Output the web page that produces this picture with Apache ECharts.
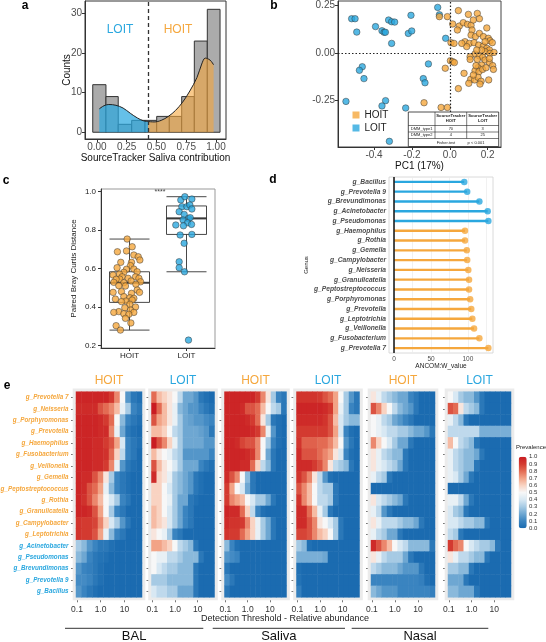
<!DOCTYPE html>
<html><head><meta charset="utf-8">
<script src="https://cdn.jsdelivr.net/npm/echarts@6/dist/echarts.min.js"></script>
<style>html,body{margin:0;padding:0;background:#fff}#c{width:546px;height:642px}</style>
</head><body><div id="c"></div>
<script>
// ================= DATA =================
// Panel a: histogram of SourceTracker saliva contribution
const histBinStart = [-0.035, 0.076, 0.179, 0.292, 0.404, 0.502, 0.608, 0.712, 0.818, 0.927];
const histBinEnd   = [0.076, 0.179, 0.292, 0.404, 0.502, 0.608, 0.712, 0.818, 0.927, 1.034];
const histCounts   = [12, 9, 2, 3, 3, 4, 4, 9, 23, 31];
const densityLOIT = [[0.02,5.9],[0.06,6.7],[0.10,7.0],[0.16,6.8],[0.22,6.1],[0.28,4.8],[0.34,3.6],[0.39,2.9],[0.43,2.7]];
const densityHOIT = [[0.43,2.7],[0.48,2.6],[0.54,3.0],[0.60,4.0],[0.66,5.5],[0.72,7.6],[0.78,10.4],[0.84,13.8],[0.88,17.2],[0.91,18.7],[0.95,18.2],[0.98,17.0]];
const splitThreshold = 0.43;

// Panel b: PCoA
const pcaHOIT = [[-0.055,0.192],[-0.013,0.192],[0.045,0.224],[0.098,0.204],[0.145,0.209],[0.156,0.181],[0.015,0.153],[0.050,0.142],[0.071,0.160],[0.093,0.151],[0.112,0.146],[0.124,0.174],[0.040,0.121],[0.117,0.121],[0.195,0.132],[0.112,0.094],[0.135,0.086],[0.156,0.103],[0.177,0.086],[0.203,0.077],[0.212,0.064],[0.224,0.054],[0.080,0.059],[0.103,0.050],[0.128,0.054],[0.152,0.041],[0.177,0.036],[0.195,0.024],[0.209,0.015],[0.186,0.006],[0.212,-0.003],[0.233,0.002],[0.133,-0.006],[0.156,-0.017],[0.173,-0.024],[0.107,-0.021],[0.006,0.054],[0.022,0.050],[0.003,-0.042],[0.015,-0.047],[0.024,-0.052],[-0.024,-0.082],[0.075,-0.109],[0.107,-0.035],[0.145,-0.035],[0.186,-0.038],[0.209,-0.052],[0.226,-0.068],[0.168,-0.065],[0.149,-0.079],[0.133,-0.095],[0.154,-0.100],[0.173,-0.088],[0.230,-0.088],[0.110,-0.141],[0.131,-0.144],[0.149,-0.130],[0.165,-0.151],[0.205,-0.144],[0.100,-0.162],[0.159,-0.166],[0.045,-0.190],[-0.136,-0.265],[-0.046,-0.290],[-0.013,-0.290],[0.186,0.059],[0.168,0.015],[0.138,-0.068],[0.124,-0.118],[0.191,-0.079],[0.089,0.033],[0.063,0.050],[0.209,-0.030],[0.142,0.015]];
const pcaLOIT = [[-0.518,0.181],[-0.500,0.181],[-0.491,0.110],[-0.392,0.139],[-0.358,0.117],[-0.347,0.109],[-0.340,0.109],[-0.323,0.174],[-0.307,0.165],[-0.291,0.163],[-0.205,0.199],[-0.219,0.103],[-0.201,0.116],[-0.307,0.050],[-0.064,0.241],[-0.055,0.202],[-0.022,0.077],[-0.113,-0.059],[-0.462,-0.074],[-0.477,-0.093],[-0.453,-0.137],[-0.140,-0.137],[-0.131,-0.159],[-0.548,-0.258],[-0.339,-0.254],[-0.358,-0.282],[-0.233,-0.293],[-0.319,-0.470]];
const tableHeader = ['', 'SourceTracker\nHOIT', 'SourceTracker\nLOIT'];
const tableRows = [['DMM_type1', '70', '3'], ['DMM_type2', '4', '25']];
const tableFooter = ['Fisher.test', 'p < 0.001'];

// Panel c: paired Bray Curtis distance
const brayGroups = ['HOIT', 'LOIT'];
const brayHOIT = [[0.959,0.754],[1.047,0.714],[0.788,0.688],[0.947,0.692],[1.076,0.671],[1.153,0.662],[1.182,0.645],[1.035,0.633],[0.847,0.633],[0.782,0.605],[1.018,0.616],[0.947,0.597],[1.076,0.598],[1.135,0.584],[0.900,0.581],[0.824,0.572],[0.712,0.567],[0.871,0.558],[1.106,0.558],[0.976,0.550],[1.165,0.550],[0.829,0.546],[0.765,0.545],[1.029,0.536],[1.194,0.532],[0.724,0.529],[0.900,0.527],[1.112,0.519],[0.812,0.512],[0.929,0.510],[1.135,0.489],[1.035,0.472],[1.176,0.477],[0.859,0.481],[0.712,0.477],[0.900,0.455],[1.006,0.449],[1.076,0.446],[0.753,0.442],[0.941,0.432],[1.047,0.437],[0.859,0.429],[1.006,0.415],[1.106,0.401],[0.918,0.397],[0.812,0.377],[1.018,0.385],[1.076,0.373],[0.900,0.366],[0.988,0.363],[0.724,0.373],[0.929,0.342],[1.024,0.318],[0.765,0.304],[0.841,0.281]];
const brayLOIT = [[1.900,0.957],[1.971,0.974],[2.094,0.962],[1.918,0.922],[2.006,0.922],[2.059,0.931],[1.871,0.896],[1.959,0.882],[2.094,0.910],[2.035,0.861],[2.065,0.865],[1.941,0.853],[2.018,0.839],[1.947,0.823],[1.812,0.827],[2.088,0.830],[1.888,0.775],[2.094,0.778],[1.959,0.732],[1.871,0.636],[1.871,0.605],[1.965,0.584],[2.035,0.229]];
const brayBoxHOIT = [0.281, 0.425, 0.527, 0.584, 0.754];
const brayBoxLOIT = [0.584, 0.778, 0.861, 0.926, 0.974];
const brayMedians = [0.527, 0.861];

// Panel d: ANCOM W values
const ancomGenus = ['g_Bacillus','g_Prevotella 9','g_Brevundimonas','g_Acinetobacter','g_Pseudomonas','g_Haemophilus','g_Rothia','g_Gemella','g_Campylobacter','g_Neisseria','g_Granulicatella','g_Peptostreptococcus','g_Porphyromonas','g_Prevotella','g_Leptotrichia','g_Veillonella','g_Fusobacterium','g_Prevotella 7'];
const ancomW = [95, 99, 115.5, 126.8, 127.7, 96, 96, 98.5, 99, 100.5, 101.5, 101.5, 103, 104.5, 106, 108.3, 115.5, 127.7];
const ancomGroup = ['LOIT','LOIT','LOIT','LOIT','LOIT','HOIT','HOIT','HOIT','HOIT','HOIT','HOIT','HOIT','HOIT','HOIT','HOIT','HOIT','HOIT','HOIT'];

// Panel e: core prevalence heatmaps
const heatGenus = ['g_Prevotella 7','g_Neisseria','g_Porphyromonas','g_Prevotella','g_Haemophilus','g_Fusobacterium','g_Veillonella','g_Gemella','g_Peptostreptococcus','g_Rothia','g_Granulicatella','g_Campylobacter','g_Leptotrichia','g_Acinetobacter','g_Pseudomonas','g_Brevundimonas','g_Prevotella 9','g_Bacillus'];
const heatGenusGroup = ['HOIT','HOIT','HOIT','HOIT','HOIT','HOIT','HOIT','HOIT','HOIT','HOIT','HOIT','HOIT','HOIT','LOIT','LOIT','LOIT','LOIT','LOIT'];
const thresholds = ['0.11','0.2','0.34','0.58','1','1.7','2.9','5','8.5','15','25','43'];
const thresholdTicks = [-1, 0, 1];           // log10 positions
const thresholdTickLabels = ['0.1', '1.0', '10'];
const balHOIT = [
 [.97,.97,.97,.97,.97,.97,.9,.75,.5,.15,.05,.02],
 [.95,.95,.95,.95,.85,.8,.75,.65,.45,.3,.1,.05],
 [.97,.97,.97,.97,.95,.9,.8,.5,.25,.1,.05,.02],
 [.97,.97,.97,.97,.95,.95,.75,.45,.2,.05,.02,0],
 [.97,.97,.97,.95,.95,.9,.85,.7,.4,.1,.05,.02],
 [.97,.97,.97,.95,.95,.93,.8,.6,.35,.1,.05,0],
 [.97,.97,.97,.95,.95,.9,.75,.45,.15,.05,.02,0],
 [.97,.95,.95,.85,.75,.55,.3,.1,.05,.02,0,0],
 [.97,.95,.85,.8,.7,.45,.25,.1,.05,.02,0,0],
 [.97,.93,.85,.75,.65,.5,.4,.3,.1,.05,0,0],
 [.97,.97,.95,.85,.7,.5,.3,.1,.05,0,0,0],
 [.92,.9,.9,.88,.75,.6,.4,.3,.15,.05,0,0],
 [.92,.9,.9,.85,.7,.45,.25,.1,.05,0,0,0],
 [.3,.25,.15,.1,.05,.05,.02,0,0,0,0,0],
 [.25,.2,.1,.05,.03,.02,0,0,0,0,0,0],
 [.15,.1,.08,.05,.02,0,0,0,0,0,0,0],
 [.12,.12,.1,.05,.02,0,0,0,0,0,0,0],
 [.15,.1,.05,.02,0,0,0,0,0,0,0,0]];
const balLOIT = [
 [.8,.65,.6,.55,.5,.35,.2,.2,.15,.05,.02,0],
 [1,.8,.65,.55,.45,.25,.2,.15,.15,.1,.05,.02],
 [.85,.7,.65,.55,.45,.3,.2,.18,.15,.15,.12,.1],
 [.65,.65,.6,.5,.35,.3,.2,.2,.2,.18,.15,.05],
 [1,.85,.75,.6,.45,.3,.2,.2,.2,.2,.15,.15],
 [.65,.55,.5,.45,.35,.3,.15,.15,.15,.15,.15,.1],
 [.85,.65,.55,.5,.4,.3,.2,.2,.2,.1,.05,.02],
 [.95,.6,.55,.45,.3,.25,.2,.15,.05,.02,0,0],
 [.6,.6,.5,.4,.3,.25,.2,.15,.05,.02,0,0],
 [.6,.6,.5,.45,.3,.2,.2,.05,.02,0,0,0],
 [.65,.6,.5,.4,.3,.2,.1,.05,0,0,0,0],
 [.65,.6,.55,.4,.3,.2,.1,.05,0,0,0,0],
 [.55,.5,.45,.3,.1,.05,0,0,0,0,0,0],
 [.7,.7,.65,.6,.5,.35,.3,.25,.05,0,0,0],
 [.5,.45,.45,.35,.35,.3,.25,.25,.25,.05,0,0],
 [.5,.4,.35,.3,.3,.25,.25,.25,.05,0,0,0],
 [.3,.3,.3,.25,.25,.25,.25,.25,.05,0,0,0],
 [.4,.35,.35,.3,.3,.2,.2,.2,.05,0,0,0]];
const salivaHOIT = [
 [.97,.97,.97,.97,.97,.97,.9,.75,.55,.3,.1,.05],
 [.97,.97,.97,.95,.85,.85,.8,.65,.5,.35,.3,.05],
 [.97,.97,.97,.97,.95,.9,.8,.55,.3,.05,.02,0],
 [.97,.97,.97,.97,.97,.95,.9,.75,.45,.15,.02,0],
 [.97,.97,.95,.88,.85,.85,.75,.5,.3,.1,.02,0],
 [.97,.97,.97,.97,.95,.9,.75,.5,.2,.05,0,0],
 [.97,.97,.97,.95,.95,.8,.6,.35,.25,.05,0,0],
 [.95,.85,.75,.5,.25,.05,0,0,0,0,0,0],
 [.9,.7,.5,.4,.2,.05,0,0,0,0,0,0],
 [.9,.75,.7,.65,.5,.4,.3,.3,.2,.05,0,0],
 [.97,.95,.95,.8,.6,.35,.1,.02,0,0,0,0],
 [.95,.92,.92,.9,.75,.6,.45,.3,.2,.05,0,0],
 [.92,.9,.9,.8,.7,.6,.45,.3,.2,.05,0,0],
 [.25,.1,.02,0,0,0,0,0,0,0,0,0],
 [.15,.12,.1,0,0,0,0,0,0,0,0,0],
 [.05,0,0,0,0,0,0,0,0,0,0,0],
 [.12,.05,0,0,0,0,0,0,0,0,0,0],
 [.05,0,0,0,0,0,0,0,0,0,0,0]];
const salivaLOIT = [
 [.92,.92,.92,.92,.9,.85,.8,.7,.5,.3,.15,.05],
 [.97,.97,.97,.97,.97,.95,.9,.7,.45,.3,.1,.05],
 [.95,.95,.95,.95,.95,.92,.85,.65,.4,.3,.25,.25],
 [.9,.9,.9,.9,.9,.9,.85,.7,.4,.1,.02,0],
 [.92,.82,.82,.82,.8,.8,.75,.65,.5,.15,.05,0],
 [.95,.85,.85,.85,.8,.75,.7,.55,.4,.1,.02,0],
 [.95,.95,.95,.9,.85,.75,.55,.35,.3,.25,.05,0],
 [.92,.85,.75,.55,.35,.15,.02,0,0,0,0,0],
 [.85,.75,.65,.5,.35,.3,.3,.05,0,0,0,0],
 [.92,.75,.65,.5,.35,.35,.3,.05,0,0,0,0],
 [.95,.95,.8,.65,.45,.3,.05,0,0,0,0,0],
 [.95,.95,.85,.75,.55,.5,.4,.3,.05,0,0,0],
 [.88,.88,.85,.75,.65,.6,.5,.3,.05,0,0,0],
 [.3,.25,.02,0,0,0,0,0,0,0,0,0],
 [.22,.22,.22,.22,.22,.2,0,0,0,0,0,0],
 [.02,0,0,0,0,0,0,0,0,0,0,0],
 [.03,0,0,0,0,0,0,0,0,0,0,0],
 [.08,0,0,0,0,0,0,0,0,0,0,0]];
const nasalHOIT = [
 [.55,.45,.35,.3,.25,.2,.2,.1,.05,0,0,0],
 [.85,.75,.6,.5,.35,.25,.2,.15,.05,0,0,0],
 [.5,.45,.35,.3,.2,.15,.1,.05,0,0,0,0],
 [.5,.45,.4,.35,.35,.3,.3,.25,.2,.2,.15,.05],
 [.75,.6,.5,.4,.3,.2,.2,.05,0,0,0,0],
 [.55,.45,.35,.3,.25,.25,.05,0,0,0,0,0],
 [.55,.45,.4,.35,.3,.2,.05,0,0,0,0,0],
 [.45,.35,.3,.05,0,0,0,0,0,0,0,0],
 [0,0,0,0,0,0,0,0,0,0,0,0],
 [.55,.4,.35,.3,.25,.2,.05,0,0,0,0,0],
 [.45,.35,.15,.05,0,0,0,0,0,0,0,0],
 [.55,.45,.35,.35,.35,.3,.25,.25,.2,.05,0,0],
 [.45,.35,.3,.2,.2,.05,0,0,0,0,0,0],
 [.95,.85,.75,.65,.5,.4,.35,.25,.25,.25,.25,.05],
 [.55,.45,.35,.3,.3,.3,.2,.05,0,0,0,0],
 [.35,.3,.25,.25,.25,.2,.15,.15,.15,.05,0,0],
 [.1,.1,.1,.1,.1,.1,.1,.1,.1,.08,.02,0],
 [.25,.2,.15,.15,.15,.1,.1,.1,.1,.1,.1,.08]];
const nasalLOIT = [
 [.5,.4,.3,.25,.25,.15,.05,0,0,0,0,0],
 [.85,.8,.55,.35,.3,.25,.05,0,0,0,0,0],
 [.45,.35,.25,.05,0,0,0,0,0,0,0,0],
 [.35,.35,.35,.35,.35,.35,.22,.22,.22,.22,.22,.22],
 [.65,.5,.35,.3,.25,.05,0,0,0,0,0,0],
 [.45,.35,.3,.25,.25,.2,.05,0,0,0,0,0],
 [.45,.35,.3,.25,.25,.05,0,0,0,0,0,0],
 [.45,.4,.3,.2,.05,0,0,0,0,0,0,0],
 [0,0,0,0,0,0,0,0,0,0,0,0],
 [.45,.45,.35,.2,.05,0,0,0,0,0,0,0],
 [.4,.3,.25,.05,0,0,0,0,0,0,0,0],
 [.4,.4,.35,.3,.3,.25,.25,.05,0,0,0,0],
 [.35,.3,.05,0,0,0,0,0,0,0,0,0],
 [.9,.8,.75,.5,.4,.35,.3,.3,.25,.05,0,0],
 [.55,.45,.35,.35,.3,.25,.25,.05,0,0,0,0],
 [.3,.3,.25,.25,.05,0,0,0,0,0,0,0],
 [.2,.2,.2,.05,0,0,0,0,0,0,0,0],
 [.25,.25,.2,.2,.2,.05,0,0,0,0,0,0]];
const prevalenceTicks = ['1.0','0.9','0.8','0.7','0.6','0.5','0.4','0.3','0.2','0.1','0.0'];
const siteNames = ['BAL', 'Saliva', 'Nasal'];

// ================= STYLE / LAYOUT =================
const ORANGE = '#F5A73D', BLUE = '#2AA7DF';
const FONT = "'Liberation Sans', Arial, sans-serif";
const TXT = '#4d4d4d';
const HEAT_COLORS = ['#1b6bb0','#3a84c0','#6ea7d2','#a6cae4','#d8e8f3','#f7f7f7','#f9d3c2','#f2a386','#e36b53','#d33a30','#c91c22'];
const heatPanels = [
  {site: 'BAL', group: 'HOIT', values: balHOIT},
  {site: 'BAL', group: 'LOIT', values: balLOIT},
  {site: 'Saliva', group: 'HOIT', values: salivaHOIT},
  {site: 'Saliva', group: 'LOIT', values: salivaLOIT},
  {site: 'Nasal', group: 'HOIT', values: nasalHOIT},
  {site: 'Nasal', group: 'LOIT', values: nasalLOIT}
];
const HEAT_LEFT = [76, 151.5, 224.5, 296.5, 371, 448];
const HEAT_W = [66, 63, 62, 63, 64, 63];
const HEAT_TOP = 391.7, HEAT_H = 205.6;

const chart = echarts.init(document.getElementById('c'), null, {renderer: 'canvas'});

const noOB = {outerBoundsMode: 'none', containLabel: false};
const grids = [
  Object.assign({left: 85, top: 1, width: 141, height: 138, show: true, borderColor: '#333', borderWidth: 1, backgroundColor: 'transparent'}, noOB),
  Object.assign({left: 338, top: 1, width: 163, height: 146, show: true, borderColor: '#444', borderWidth: 1, backgroundColor: 'transparent'}, noOB),
  Object.assign({left: 101, top: 189, width: 114, height: 159, show: true, borderColor: '#999', borderWidth: 1, backgroundColor: 'transparent'}, noOB),
  Object.assign({left: 389, top: 177, width: 104, height: 176, show: true, borderColor: '#d0d0d0', borderWidth: 0.8, backgroundColor: 'transparent'}, noOB)
];
HEAT_LEFT.forEach((l, i) => grids.push(Object.assign({left: l, top: HEAT_TOP, width: HEAT_W[i], height: HEAT_H, show: false}, noOB)));

const axLine = {show: true, onZero: false, lineStyle: {color: '#333', width: 1}};
const xAxes = [], yAxes = [];
// panel a
xAxes.push({gridIndex: 0, type: 'value', position: 'bottom', min: -0.1, max: 1.084, axisLine: axLine,
  axisTick: {show: true, length: 3, customValues: [0, 0.25, 0.5, 0.75, 1], lineStyle: {color: '#333'}},
  axisLabel: {customValues: [0, 0.25, 0.5, 0.75, 1], formatter: v => v.toFixed(2), fontSize: 10, color: TXT, margin: 3},
  splitLine: {show: false}, name: 'SourceTracker Saliva contribution', nameLocation: 'middle', nameGap: 14, nameMoveOverlap: false,
  nameTextStyle: {fontSize: 10, color: '#111'}});
yAxes.push({gridIndex: 0, type: 'value', min: -1.7, max: 33.1, axisLine: axLine,
  axisTick: {show: true, length: 3, customValues: [0, 10, 20, 30], lineStyle: {color: '#333'}},
  axisLabel: {customValues: [0, 10, 20, 30], fontSize: 10, color: TXT, margin: 3},
  splitLine: {show: false}, name: 'Counts', nameLocation: 'middle', nameGap: 13, nameMoveOverlap: false,
  nameTextStyle: {fontSize: 10, color: '#111'}});
// panel b
xAxes.push({gridIndex: 1, type: 'value', position: 'bottom', min: -0.59, max: 0.27, axisLine: axLine,
  axisTick: {show: true, length: 3, customValues: [-0.4, -0.2, 0, 0.2], lineStyle: {color: '#333'}},
  axisLabel: {customValues: [-0.4, -0.2, 0, 0.2], formatter: v => v.toFixed(1), fontSize: 10, color: TXT, margin: 3},
  splitLine: {show: false}, name: 'PC1 (17%)', nameLocation: 'middle', nameGap: 14.5, nameMoveOverlap: false,
  nameTextStyle: {fontSize: 10, color: '#111'}});
yAxes.push({gridIndex: 1, type: 'value', min: -0.5, max: 0.275, axisLine: axLine,
  axisTick: {show: true, length: 3, customValues: [-0.25, 0, 0.25], lineStyle: {color: '#333'}},
  axisLabel: {customValues: [-0.25, 0, 0.25], formatter: v => v.toFixed(2), fontSize: 10, color: TXT, margin: 3},
  splitLine: {show: false}});
// panel c
xAxes.push({gridIndex: 2, type: 'category', position: 'bottom', data: brayGroups, axisLine: axLine,
  axisTick: {show: true, alignWithLabel: true, length: 3, lineStyle: {color: '#333'}},
  axisLabel: {fontSize: 8, color: '#222', margin: 4}});
xAxes.push({gridIndex: 2, type: 'value', position: 'bottom', min: 0.5, max: 2.5, show: false});
yAxes.push({gridIndex: 2, type: 'value', min: 0.188, max: 1.014, axisLine: axLine,
  axisTick: {show: true, length: 3, customValues: [0.2, 0.4, 0.6, 0.8, 1.0], lineStyle: {color: '#333'}},
  axisLabel: {customValues: [0.2, 0.4, 0.6, 0.8, 1.0], formatter: v => v.toFixed(1), fontSize: 8, color: '#222', margin: 5},
  splitLine: {show: false}, name: 'Paired Bray Curtis Distance', nameLocation: 'middle', nameGap: 23, nameMoveOverlap: false,
  nameTextStyle: {fontSize: 8, color: '#222'}});
// panel d
xAxes.push({gridIndex: 3, type: 'value', position: 'bottom', min: -7, max: 134, axisLine: {show: false, onZero: false},
  axisTick: {show: false, customValues: [0, 25, 50, 75, 100, 125]},
  axisLabel: {customValues: [0, 50, 100], fontSize: 6.5, color: TXT, margin: 3},
  splitLine: {show: true, lineStyle: {color: '#ebebeb', width: 0.7}},
  name: 'ANCOM:W_value', nameLocation: 'middle', nameGap: 10, nameMoveOverlap: false,
  nameTextStyle: {fontSize: 6.5, color: '#222'}});
yAxes.push({gridIndex: 3, type: 'category', data: ancomGenus, inverse: true,
  axisLine: {show: false, onZero: false}, axisTick: {show: false},
  axisLabel: {fontSize: 6.7, fontWeight: 'bold', fontStyle: 'italic', color: TXT, margin: 3},
  splitLine: {show: false}, name: 'Genus', nameLocation: 'middle', nameGap: 80, nameMoveOverlap: false,
  nameTextStyle: {fontSize: 6, color: '#222'}});
// panel e
const heatXCatIdx = [], heatXValIdx = [], heatYIdx = [];
heatPanels.forEach((p, i) => {
  const g = 4 + i;
  heatXCatIdx.push(xAxes.length);
  xAxes.push({gridIndex: g, type: 'category', position: 'bottom', data: thresholds, show: false});
  heatXValIdx.push(xAxes.length);
  xAxes.push({gridIndex: g, type: 'value', position: 'bottom', min: -1.04, max: 1.74,
    axisLine: {show: false, onZero: false},
    axisTick: {show: true, length: 5, customValues: thresholdTicks, lineStyle: {color: '#555', width: 0.8}},
    axisLabel: {customValues: thresholdTicks, fontSize: 8.5, color: '#333', margin: 7.5,
      formatter: v => thresholdTickLabels[thresholdTicks.indexOf(Math.round(v))]},
    splitLine: {show: false}});
  heatYIdx.push(yAxes.length);
  yAxes.push({gridIndex: g, type: 'category', data: heatGenus, inverse: true,
    axisLine: {show: false, onZero: false},
    axisTick: {show: true, length: 5, alignWithLabel: true, lineStyle: {color: '#555', width: 0.8}},
    axisLabel: {show: i === 0, fontSize: 6.3, fontWeight: 'bold', fontStyle: 'italic', margin: 7.5,
      color: (v) => heatGenusGroup[heatGenus.indexOf(v)] === 'HOIT' ? ORANGE : BLUE},
    splitLine: {show: false}});
});

// ================= SERIES =================
const series = [];
// panel a
series.push({type: 'custom', name: 'All samples', xAxisIndex: 0, yAxisIndex: 0, z: 2,
  encode: {x: [0, 1], y: 2},
  data: histBinStart.map((s, i) => [s, histBinEnd[i], histCounts[i]]),
  renderItem: (params, api) => {
    const p0 = api.coord([api.value(0), api.value(2)]);
    const p1 = api.coord([api.value(1), 0]);
    return {type: 'rect', shape: {x: p0[0], y: p0[1], width: p1[0] - p0[0], height: p1[1] - p0[1]},
      style: {fill: '#ababab', stroke: '#333', lineWidth: 1}};
  }});
series.push({type: 'line', name: 'LOIT density', xAxisIndex: 0, yAxisIndex: 0, z: 3, data: densityLOIT,
  smooth: 0.35, showSymbol: false, lineStyle: {color: '#222', width: 1}, areaStyle: {color: BLUE, opacity: 0.72},
  markLine: {silent: true, symbol: 'none', label: {show: false}, lineStyle: {type: [4, 3], color: '#333', width: 1.3},
    data: [{xAxis: splitThreshold}]}});
series.push({type: 'line', name: 'HOIT density', xAxisIndex: 0, yAxisIndex: 0, z: 3, data: densityHOIT,
  smooth: 0.35, showSymbol: false, lineStyle: {color: '#222', width: 1}, areaStyle: {color: ORANGE, opacity: 0.6}});
// panel b
series.push({type: 'scatter', name: 'LOIT', xAxisIndex: 1, yAxisIndex: 1, z: 4, data: pcaLOIT, symbolSize: 6.5,
  itemStyle: {color: BLUE, borderColor: '#333', borderWidth: 0.6}});
series.push({type: 'scatter', name: 'HOIT', xAxisIndex: 1, yAxisIndex: 1, z: 4, data: pcaHOIT, symbolSize: 6.5,
  itemStyle: {color: ORANGE, borderColor: '#333', borderWidth: 0.6},
  markLine: {silent: true, symbol: 'none', label: {show: false}, lineStyle: {type: [1.5, 2], color: '#222', width: 1.2},
    data: [{xAxis: 0}, {yAxis: 0}]}});
// panel c
series.push({type: 'boxplot', name: 'Bray box', xAxisIndex: 2, yAxisIndex: 2, z: 2, boxWidth: [40, 40],
  data: [brayBoxHOIT, brayBoxLOIT], itemStyle: {color: '#fff', borderColor: '#333', borderWidth: 0.9}});
series.push({type: 'scatter', name: 'Bray median', xAxisIndex: 2, yAxisIndex: 2, z: 3, symbol: 'rect', symbolSize: [40, 2.2],
  data: brayMedians.map((m, i) => [i, m]), itemStyle: {color: '#333'}});
series.push({type: 'scatter', name: 'HOIT pairs', xAxisIndex: 3, yAxisIndex: 2, z: 4, data: brayHOIT, symbolSize: 6.5,
  itemStyle: {color: ORANGE, borderColor: '#333', borderWidth: 0.6}});
series.push({type: 'scatter', name: 'LOIT pairs', xAxisIndex: 3, yAxisIndex: 2, z: 4, data: brayLOIT, symbolSize: 6.5,
  itemStyle: {color: BLUE, borderColor: '#333', borderWidth: 0.6}});
// panel d
series.push({type: 'bar', name: 'ANCOM stem', xAxisIndex: 4, yAxisIndex: 3, z: 2, data: ancomW, barWidth: 2.4,
  itemStyle: {color: p => ancomGroup[p.dataIndex] === 'LOIT' ? BLUE : ORANGE},
  markLine: {silent: true, symbol: 'none', label: {show: false}, lineStyle: {type: 'solid', color: '#111', width: 1.5},
    data: [{xAxis: 0}]}});
series.push({type: 'scatter', name: 'ANCOM W', xAxisIndex: 4, yAxisIndex: 3, z: 3, symbolSize: 6.5,
  data: ancomW.map((v, i) => [v, i]),
  itemStyle: {color: p => ancomGroup[p.dataIndex] === 'LOIT' ? BLUE : ORANGE}});
// panel e
const heatSeriesIdx = [];
heatPanels.forEach((p, i) => {
  const data = [];
  p.values.forEach((row, r) => row.forEach((v, c) => data.push([c, r, v])));
  heatSeriesIdx.push(series.length);
  series.push({type: 'heatmap', name: p.site + ' ' + p.group, xAxisIndex: heatXCatIdx[i], yAxisIndex: heatYIdx[i],
    data: data, z: 3, itemStyle: {borderWidth: 0}, emphasis: {disabled: true}});
});

// ================= GRAPHIC (annotations) =================
const gr = [];
const T = (x, y, text, style, extra) => gr.push(Object.assign({type: 'text', x: x, y: y, z: 20,
  style: Object.assign({text: text, fontFamily: FONT, align: 'center', verticalAlign: 'middle', fill: '#111'}, style)}, extra || {}));
// panel letters
[['a', 25, 6], ['b', 274, 6], ['c', 6, 181], ['d', 273, 180], ['e', 7, 386]].forEach(l =>
  T(l[1], l[2], l[0], {fontSize: 12, fontWeight: 'bold', fill: '#000'}));
// panel a group labels
T(120, 30, 'LOIT', {fontSize: 12, fill: BLUE});
T(178, 30, 'HOIT', {fontSize: 12, fill: ORANGE});
// panel c significance
T(160, 192, '****', {fontSize: 7, fill: '#444'});
// panel b table
const tX = [408.3, 435, 466.7, 498.7], tY = [112, 125.5, 132, 138.5, 146.5];
gr.push({type: 'rect', z: 30, shape: {x: tX[0], y: tY[0], width: tX[3] - tX[0], height: tY[4] - tY[0]},
  style: {fill: '#fff', stroke: '#222', lineWidth: 0.8}});
[1, 2, 3].forEach(i => gr.push({type: 'line', z: 31, shape: {x1: tX[0], y1: tY[i], x2: tX[3], y2: tY[i]}, style: {stroke: '#222', lineWidth: 0.6}}));
[1, 2].forEach(i => gr.push({type: 'line', z: 31, shape: {x1: tX[i], y1: tY[0], x2: tX[i], y2: tY[3]}, style: {stroke: '#222', lineWidth: 0.6}}));
tableHeader.forEach((h, i) => { if (h) T((tX[i] + tX[i + 1]) / 2, (tY[0] + tY[1]) / 2, h, {fontSize: 4.2, fontWeight: 'bold', fill: '#222', lineHeight: 5}, {z: 32}); });
tableRows.forEach((row, r) => row.forEach((cell, c) =>
  T((tX[c] + tX[c + 1]) / 2, (tY[r + 1] + tY[r + 2]) / 2, cell, {fontSize: 4, fill: '#222'}, {z: 32})));
T(446, (tY[3] + tY[4]) / 2, tableFooter[0], {fontSize: 4, fill: '#222'}, {z: 32});
T(476, (tY[3] + tY[4]) / 2, tableFooter[1], {fontSize: 4, fill: '#222'}, {z: 32});
// panel e backgrounds and titles
heatPanels.forEach((p, i) => {
  gr.push({type: 'rect', z: 1, shape: {x: HEAT_LEFT[i] - 3.3, y: HEAT_TOP - 3.3, width: HEAT_W[i] + 6.6, height: HEAT_H + 6.3},
    style: {fill: '#ebebeb'}});
  T(HEAT_LEFT[i] + HEAT_W[i] / 2, 381, p.group, {fontSize: 12, fill: p.group === 'HOIT' ? ORANGE : BLUE});
});
T(285, 618.5, 'Detection Threshold - Relative abundance', {fontSize: 9, fill: '#222'});
const siteSpans = [[65, 203.3], [212.7, 345], [351.7, 488.3]];
siteNames.forEach((s, i) => {
  gr.push({type: 'line', z: 20, shape: {x1: siteSpans[i][0], y1: 628.3, x2: siteSpans[i][1], y2: 628.3}, style: {stroke: '#333', lineWidth: 1}});
  T((siteSpans[i][0] + siteSpans[i][1]) / 2, 636, s, {fontSize: 13, fill: '#111'});
});
// prevalence legend labels
T(516, 447, 'Prevalence', {fontSize: 6, fill: '#222', align: 'left'});
prevalenceTicks.forEach((t, i) => T(529, 456.7 + i * 7.16, t, {fontSize: 6, fill: '#333', align: 'left'}));

const option = {
  animation: false,
  textStyle: {fontFamily: FONT},
  grid: grids,
  xAxis: xAxes,
  yAxis: yAxes,
  legend: {data: [{name: 'HOIT', icon: 'rect'}, {name: 'LOIT', icon: 'rect'}], orient: 'vertical', left: 352.5, top: 110,
    itemWidth: 7, itemHeight: 7, itemGap: 3, padding: 0, itemStyle: {borderWidth: 0},
    textStyle: {fontSize: 10, color: '#222', fontFamily: FONT}},
  visualMap: {type: 'continuous', min: 0, max: 1, seriesIndex: heatSeriesIdx, dimension: 2, calculable: false,
    orient: 'vertical', left: 518.7, top: 456.7, itemWidth: 8, itemHeight: 71.6, padding: 0, text: null,
    inRange: {color: HEAT_COLORS}},
  series: series,
  graphic: {elements: gr}
};
chart.setOption(option);
</script></body></html>
